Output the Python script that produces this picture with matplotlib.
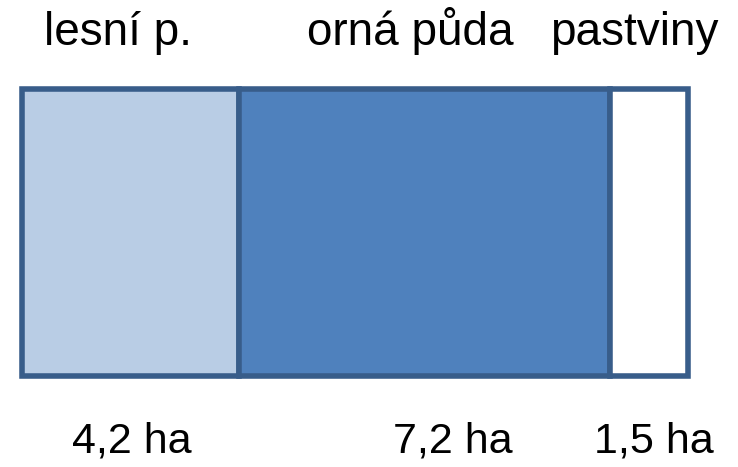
import matplotlib
matplotlib.use("Agg")
import matplotlib.pyplot as plt

categories = ["lesní p.", "orná půda", "pastviny"]
values = [4.2, 7.2, 1.5]
value_labels = ["4,2 ha", "7,2 ha", "1,5 ha"]

# style / layout
colors = ["#B9CDE5", "#4F81BD", "#FFFFFF"]
edge = "#385D8A"
top_label_x_px = [118, 410, 634]
bottom_label_x_px = [132, 453, 654]

W, H = 738, 467
fig = plt.figure(figsize=(W / 100, H / 100), dpi=100)
ax = fig.add_axes([0, 0, 1, 1])
total = sum(values)
left_px, right_px = 22, 687.5
scale = (right_px - left_px) / total  # px per data unit
ax.set_xlim(-left_px / scale, (W - left_px) / scale)
ax.set_ylim(H, 0)
ax.axis("off")

left = 0.0
for v, c in zip(values, colors):
    ax.barh(232.5, v, left=left, height=287, color=c, edgecolor=edge,
            linewidth=4, zorder=2)
    left += v

def px2x(p):
    return (p - left_px) / scale

for lab, p in zip(categories, top_label_x_px):
    ax.text(px2x(p), 45, lab, ha="center", va="baseline",
            fontsize=33, family="Liberation Sans", color="black")
for lab, p in zip(value_labels, bottom_label_x_px):
    ax.text(px2x(p), 452, lab, ha="center", va="baseline",
            fontsize=31, family="Liberation Sans", color="black")

fig.savefig("out.png", dpi=100)
